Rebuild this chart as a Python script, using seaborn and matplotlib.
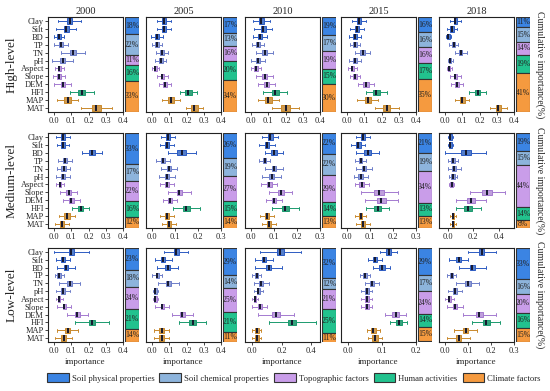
import numpy as np
import pandas as pd
import matplotlib
matplotlib.use('Agg')
import matplotlib.pyplot as plt
import seaborn as sns
from matplotlib.patches import Patch

sns.set_style('ticks')
plt.rcParams['font.family'] = ['Liberation Serif', 'DejaVu Serif']

# 1. Dados
variables = ['Clay', 'Silt', 'BD', 'TP', 'TN', 'pH', 'Aspect', 'Slope', 'DEM', 'HFI', 'MAP', 'MAT']
var_group = [0, 0, 0, 1, 1, 1, 2, 2, 2, 3, 4, 4]
groups = ['Soil physical properties', 'Soil chemical properties', 'Topographic factors',
          'Human activities', 'Climate factors']
years = ['2000', '2005', '2010', '2015', '2018']
levels = ['High-level', 'Medium-level', 'Low-level']

# medianas (uma lista por ano)
high_med = [
    [0.09, 0.07, 0.03, 0.04, 0.11, 0.05, 0.03, 0.03, 0.05, 0.16, 0.08, 0.245],
    [0.07, 0.07, 0.03, 0.03, 0.06, 0.05, 0.02, 0.06, 0.075, 0.21, 0.11, 0.245],
    [0.06, 0.07, 0.05, 0.04, 0.08, 0.04, 0.03, 0.08, 0.09, 0.14, 0.10, 0.20],
    [0.07, 0.06, 0.045, 0.045, 0.09, 0.045, 0.03, 0.045, 0.11, 0.17, 0.12, 0.23],
    [0.06, 0.04, 0.02, 0.05, 0.09, 0.03, 0.025, 0.06, 0.07, 0.19, 0.10, 0.31],
]
medium_med = [
    [0.05, 0.05, 0.22, 0.065, 0.055, 0.05, 0.035, 0.085, 0.10, 0.155, 0.075, 0.045],
    [0.07, 0.065, 0.13, 0.05, 0.075, 0.065, 0.065, 0.12, 0.08, 0.15, 0.065, 0.075],
    [0.085, 0.07, 0.10, 0.06, 0.10, 0.09, 0.08, 0.13, 0.10, 0.15, 0.07, 0.08],
    [0.07, 0.05, 0.09, 0.06, 0.075, 0.06, 0.065, 0.14, 0.15, 0.135, 0.06, 0.07],
    [0.02, 0.02, 0.14, 0.04, 0.05, 0.04, 0.03, 0.31, 0.18, 0.16, 0.04, 0.04],
]
low_med = [
    [0.10, 0.05, 0.07, 0.03, 0.09, 0.05, 0.03, 0.06, 0.135, 0.22, 0.08, 0.055],
    [0.14, 0.065, 0.09, 0.03, 0.095, 0.02, 0.02, 0.06, 0.175, 0.235, 0.055, 0.055],
    [0.19, 0.08, 0.11, 0.03, 0.06, 0.04, 0.02, 0.05, 0.16, 0.27, 0.03, 0.03],
    [0.12, 0.08, 0.10, 0.05, 0.07, 0.055, 0.055, 0.055, 0.14, 0.15, 0.075, 0.08],
    [0.16, 0.06, 0.12, 0.03, 0.10, 0.045, 0.02, 0.045, 0.15, 0.18, 0.09, 0.06],
]

# meia largura da caixa (IQR/2)
high_box = [
    [0.015, 0.015, 0.01, 0.012, 0.015, 0.015, 0.008, 0.01, 0.012, 0.02, 0.02, 0.025],
    [0.012, 0.012, 0.01, 0.01, 0.012, 0.012, 0.008, 0.01, 0.012, 0.02, 0.018, 0.02],
    [0.015, 0.015, 0.012, 0.012, 0.015, 0.012, 0.01, 0.015, 0.015, 0.02, 0.02, 0.025],
    [0.012, 0.012, 0.01, 0.01, 0.012, 0.01, 0.008, 0.01, 0.015, 0.02, 0.018, 0.02],
    [0.01, 0.01, 0.006, 0.008, 0.01, 0.006, 0.006, 0.01, 0.012, 0.015, 0.015, 0.015],
]
medium_box = [
    [0.012, 0.012, 0.02, 0.012, 0.012, 0.012, 0.008, 0.015, 0.015, 0.015, 0.015, 0.012],
    [0.008, 0.008, 0.02, 0.008, 0.008, 0.008, 0.008, 0.01, 0.008, 0.015, 0.008, 0.008],
    [0.01, 0.01, 0.012, 0.008, 0.01, 0.01, 0.01, 0.012, 0.01, 0.015, 0.008, 0.008],
    [0.01, 0.01, 0.015, 0.008, 0.01, 0.01, 0.01, 0.02, 0.02, 0.015, 0.008, 0.008],
    [0.01, 0.01, 0.04, 0.012, 0.015, 0.012, 0.01, 0.04, 0.03, 0.03, 0.01, 0.01],
]
low_box = [
    [0.015, 0.012, 0.012, 0.01, 0.015, 0.012, 0.006, 0.01, 0.015, 0.02, 0.015, 0.012],
    [0.015, 0.012, 0.015, 0.008, 0.015, 0.006, 0.006, 0.01, 0.015, 0.02, 0.012, 0.012],
    [0.025, 0.015, 0.02, 0.01, 0.015, 0.01, 0.008, 0.015, 0.025, 0.03, 0.012, 0.012],
    [0.008, 0.006, 0.008, 0.006, 0.006, 0.006, 0.006, 0.006, 0.01, 0.008, 0.008, 0.008],
    [0.012, 0.01, 0.012, 0.006, 0.012, 0.008, 0.006, 0.008, 0.015, 0.015, 0.012, 0.01],
]

# meia largura dos bigodes (min-max)/2
high_whisk = [
    [0.065, 0.06, 0.03, 0.04, 0.07, 0.06, 0.025, 0.035, 0.05, 0.07, 0.06, 0.09],
    [0.04, 0.04, 0.035, 0.03, 0.035, 0.03, 0.02, 0.03, 0.035, 0.05, 0.05, 0.05],
    [0.05, 0.05, 0.04, 0.035, 0.05, 0.04, 0.03, 0.05, 0.05, 0.07, 0.06, 0.08],
    [0.04, 0.04, 0.035, 0.03, 0.045, 0.035, 0.025, 0.03, 0.045, 0.06, 0.06, 0.07],
    [0.03, 0.03, 0.015, 0.025, 0.035, 0.015, 0.015, 0.03, 0.035, 0.05, 0.04, 0.05],
]
medium_whisk = [
    [0.04, 0.035, 0.06, 0.04, 0.04, 0.04, 0.025, 0.05, 0.05, 0.05, 0.045, 0.04],
    [0.03, 0.03, 0.06, 0.03, 0.035, 0.035, 0.03, 0.05, 0.03, 0.06, 0.03, 0.03],
    [0.035, 0.035, 0.04, 0.025, 0.04, 0.04, 0.035, 0.05, 0.035, 0.06, 0.03, 0.03],
    [0.03, 0.03, 0.05, 0.025, 0.035, 0.03, 0.03, 0.08, 0.07, 0.05, 0.025, 0.03],
    [0.02, 0.02, 0.16, 0.04, 0.05, 0.03, 0.02, 0.14, 0.12, 0.1, 0.02, 0.02],
]
low_whisk = [
    [0.1, 0.04, 0.05, 0.025, 0.06, 0.04, 0.02, 0.04, 0.06, 0.1, 0.06, 0.05],
    [0.07, 0.05, 0.06, 0.03, 0.06, 0.015, 0.015, 0.04, 0.06, 0.08, 0.045, 0.045],
    [0.14, 0.06, 0.09, 0.03, 0.05, 0.03, 0.02, 0.05, 0.12, 0.16, 0.03, 0.03],
    [0.025, 0.02, 0.025, 0.015, 0.02, 0.015, 0.015, 0.015, 0.03, 0.025, 0.02, 0.02],
    [0.06, 0.04, 0.06, 0.02, 0.05, 0.03, 0.02, 0.035, 0.07, 0.06, 0.05, 0.05],
]

# importância acumulada (%) por grupo
high_pct = [[18, 22, 11, 16, 33], [17, 13, 16, 20, 34], [19, 17, 19, 15, 30],
            [16, 16, 16, 17, 35], [11, 15, 14, 19, 41]]
medium_pct = [[33, 17, 22, 16, 12], [26, 19, 27, 15, 14], [22, 22, 29, 14, 13],
              [21, 19, 34, 13, 13], [19, 15, 44, 14, 8]]
low_pct = [[23, 18, 24, 21, 14], [29, 14, 25, 21, 11], [32, 12, 21, 25, 11],
           [29, 17, 24, 14, 15], [33, 16, 20, 16, 15]]

# limites e ticks do eixo x
high_xlim = [(-0.035, 0.4)] * 5
medium_xlim = [(-0.035, 0.4), (-0.025, 0.3), (-0.025, 0.3), (-0.025, 0.3), (-0.07, 0.52)]
low_xlim = [(-0.035, 0.4), (-0.035, 0.4), (-0.05, 0.46), (-0.02, 0.2), (-0.025, 0.3)]
ticks_04 = [0, 0.1, 0.2, 0.3, 0.4]
ticks_03 = [0, 0.1, 0.2, 0.3]
ticks_big = [0, 0.2, 0.4]
high_ticks = [ticks_04] * 5
medium_ticks = [ticks_04, ticks_03, ticks_03, ticks_03, ticks_big]
low_ticks = [ticks_04, ticks_04, ticks_big, [0, 0.1, 0.2], ticks_03]

meds = [high_med, medium_med, low_med]
boxes = [high_box, medium_box, low_box]
whisks = [high_whisk, medium_whisk, low_whisk]
pcts = [high_pct, medium_pct, low_pct]
xlims = [high_xlim, medium_xlim, low_xlim]
xticks = [high_ticks, medium_ticks, low_ticks]

bar_colors = ['#3b84e3', '#8db4dc', '#c99de9', '#22c28e', '#f59a3f']
box_colors = ['#3f78df', '#8296e0', '#bf95e6', '#22b683', '#e6a03c']
line_colors = ['#2d5bc2', '#6d7dc9', '#a47ad0', '#1b9a6e', '#c9892c']

# 2. Figura
W, H = 550, 391
fig = plt.figure(figsize=(5.5, 3.91), dpi=100)


def px_axes(x0, y0, x1, y1):
    return fig.add_axes([x0 / W, 1 - y1 / H, (x1 - x0) / W, (y1 - y0) / H])


col_x = [48, 146, 245, 341, 439]
row_y = [(17, 112), (133, 228), (248, 342)]

for r in range(3):
    for c in range(5):
        rows = []
        for j, v in enumerate(variables):
            m, b, w = meds[r][c][j], boxes[r][c][j], whisks[r][c][j]
            for val in [m - w, m - b, m, m + b, m + w]:
                rows.append({'variable': v, 'group': var_group[j], 'value': val})
        df = pd.DataFrame(rows)

        x0 = col_x[c]
        ax = px_axes(x0, row_y[r][0], x0 + 75, row_y[r][1])
        for g in range(5):
            sub = df[df['group'] == g]
            sns.boxplot(data=sub, x='value', y='variable', order=variables,
                        color=box_colors[g], linecolor=line_colors[g],
                        whis=(0, 100), width=0.68, linewidth=0.7, showfliers=False,
                        medianprops={'color': '#15182e', 'linewidth': 1.4}, ax=ax)
        ax.set_xlim(*xlims[r][c])
        ax.set_xticks(xticks[r][c])
        ax.set_xticklabels([f'{t:.1f}' for t in xticks[r][c]], fontsize=6)
        ax.set_ylabel('')
        ax.set_xlabel('importance' if r == 2 else '', fontsize=6.5, labelpad=2)
        ax.tick_params(axis='x', length=2, width=0.6, pad=1.5)
        if c == 0:
            ax.tick_params(axis='y', length=2, width=0.6, pad=1, labelsize=6)
        else:
            ax.tick_params(axis='y', length=0, labelleft=False)
        for s in ax.spines.values():
            s.set_linewidth(0.8)
            s.set_color('#222222')
            s.set_visible(True)
        if r == 0:
            ax.set_title(years[c], fontsize=7.5, pad=2)

        # barra empilhada
        bax = px_axes(x0 + 77, row_y[r][0], x0 + 91, row_y[r][1])
        top = 100
        for g in range(5):
            p = pcts[r][c][g]
            bax.bar(0, p, bottom=top - p, width=1, color=bar_colors[g],
                    edgecolor='#333333', linewidth=0.8)
            bax.text(0, top - p / 2, f'{p}%', ha='center', va='center',
                     fontsize=5.5, color='#222222')
            top -= p
        bax.set_xlim(-0.5, 0.5)
        bax.set_ylim(0, 100)
        bax.axis('off')

    mid = (row_y[r][0] + row_y[r][1]) / 2
    fig.text(12 / W, 1 - mid / H, levels[r], rotation=90, ha='center', va='center', fontsize=9.5)
    fig.text(540 / W, 1 - mid / H, 'Cumulative importance(%)', rotation=270,
             ha='center', va='center', fontsize=7)

handles = [Patch(facecolor=bar_colors[g], edgecolor='#333333', linewidth=0.8, label=groups[g])
           for g in range(5)]
fig.legend(handles=handles, loc='center left', bbox_to_anchor=(47 / W, 1 - 378 / H),
           ncol=5, frameon=False, fontsize=6.2, handlelength=2.5, handleheight=1.2,
           columnspacing=0.6, handletextpad=0.35, borderaxespad=0, borderpad=0)

fig.savefig('out.png', dpi=100)
plt.close()
